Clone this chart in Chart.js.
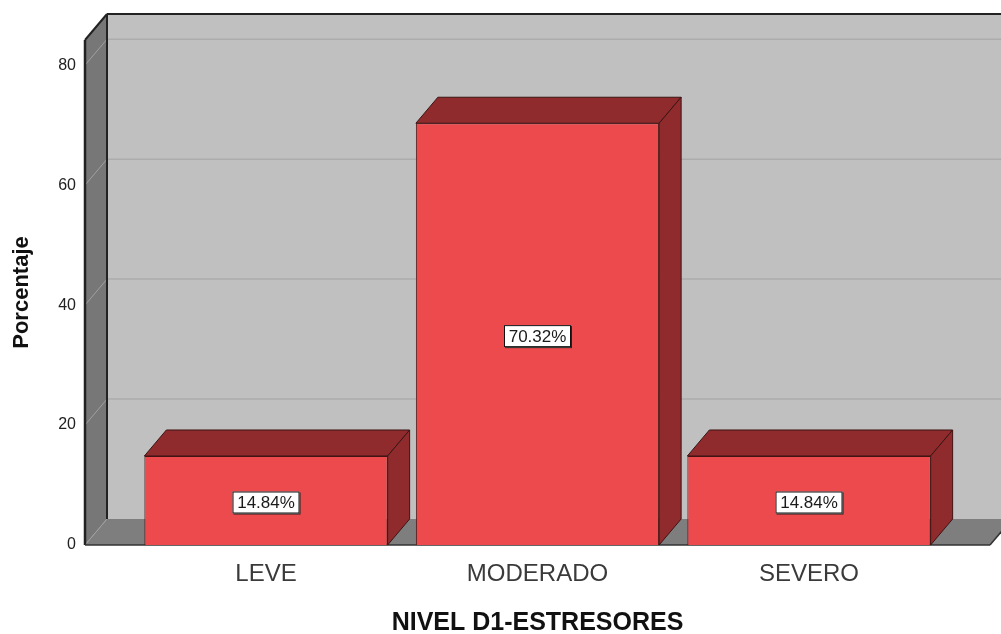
<!DOCTYPE html>
<html>
<head>
<meta charset="utf-8">
<script src="https://cdn.jsdelivr.net/npm/chart.js@4.4.1/dist/chart.umd.min.js"></script>
<style>
  body { margin: 0; background: #fff; }
  #wrap { width: 1001px; height: 634px; }
</style>
</head>
<body>
<div id="wrap"><canvas id="grafico" width="1001" height="634"></canvas></div>
<script>
var niveles = ["LEVE", "MODERADO", "SEVERO"];
var porcentajes = [14.84, 70.32, 14.84];
var yTicks = [0, 20, 40, 60, 80];

// profundidad del efecto 3D (px)
var dx = 22, dy = -26;
var fuente = "'Liberation Sans', Arial, sans-serif";

function poly(ctx, pts, fill, stroke, lw) {
  ctx.beginPath();
  ctx.moveTo(pts[0][0], pts[0][1]);
  for (var i = 1; i < pts.length; i++) ctx.lineTo(pts[i][0], pts[i][1]);
  ctx.closePath();
  if (fill) { ctx.fillStyle = fill; ctx.fill(); }
  if (stroke) { ctx.strokeStyle = stroke; ctx.lineWidth = lw || 1; ctx.stroke(); }
}

function linea(ctx, x1, y1, x2, y2, color, lw) {
  ctx.beginPath();
  ctx.moveTo(x1, y1);
  ctx.lineTo(x2, y2);
  ctx.strokeStyle = color;
  ctx.lineWidth = lw;
  ctx.stroke();
}

var caja3d = {
  id: "caja3d",
  beforeDatasetsDraw: function (chart) {
    var ctx = chart.ctx, a = chart.chartArea, y = chart.scales.y;
    ctx.save();
    // pared del fondo
    ctx.fillStyle = "#c0c0c0";
    ctx.fillRect(a.left + dx, a.top + dy, a.right - a.left, a.bottom - a.top);
    // pared izquierda
    poly(ctx, [[a.left, a.top], [a.left + dx, a.top + dy], [a.left + dx, a.bottom + dy], [a.left, a.bottom]], "#777777");
    // piso
    poly(ctx, [[a.left, a.bottom], [a.left + dx, a.bottom + dy], [a.right + dx, a.bottom + dy], [a.right, a.bottom]], "#7e7e7e");
    // lineas de cuadricula
    yTicks.forEach(function (v) {
      var py = y.getPixelForValue(v);
      if (v > 0) linea(ctx, a.left + dx, py + dy, a.right + dx, py + dy, "#acacac", 1.5);
      linea(ctx, a.left, py, a.left + dx, py + dy, "#a0a0a0", 1);
    });
    // bordes
    linea(ctx, a.left + dx, a.top + dy, a.right + dx, a.top + dy, "#222", 2);
    linea(ctx, a.left + dx, a.top + dy, a.left + dx, a.bottom + dy, "#222", 2);
    linea(ctx, a.left, a.top, a.left + dx, a.top + dy, "#222", 2);
    linea(ctx, a.left, a.top, a.left, a.bottom, "#222", 2.5);
    linea(ctx, a.left, a.bottom, a.right, a.bottom, "#333", 1.5);
    linea(ctx, a.right, a.bottom, a.right + dx, a.bottom + dy, "#333", 1.5);
    ctx.restore();
  },
  afterDatasetsDraw: function (chart) {
    var ctx = chart.ctx;
    var meta = chart.getDatasetMeta(0);
    ctx.save();
    meta.data.forEach(function (bar, i) {
      var p = bar.getProps(["x", "y", "base", "width"], true);
      var l = p.x - p.width / 2, r = p.x + p.width / 2, t = p.y, b = p.base;
      // cara superior y lateral
      poly(ctx, [[l, t], [l + dx, t + dy], [r + dx, t + dy], [r, t]], "#8f2b2d", "#3d1414", 1);
      poly(ctx, [[r, t], [r + dx, t + dy], [r + dx, b + dy], [r, b]], "#8f2b2d", "#3d1414", 1);
      // etiqueta
      var txt = porcentajes[i].toFixed(2) + "%";
      var cy = (t + b) / 2 + 2;
      var w = 67, h = 22;
      ctx.fillStyle = "#222";
      ctx.fillRect(p.x - w / 2 + 1, cy - h / 2 + 1, w, h);
      ctx.fillStyle = "#fff";
      ctx.fillRect(p.x - w / 2, cy - h / 2, w, h);
      ctx.strokeStyle = "#111";
      ctx.lineWidth = 1;
      ctx.strokeRect(p.x - w / 2 + 0.5, cy - h / 2 + 0.5, w - 1, h - 1);
      ctx.fillStyle = "#1a1a1a";
      ctx.font = "17px " + fuente;
      ctx.textAlign = "center";
      ctx.textBaseline = "middle";
      ctx.fillText(txt, p.x, cy + 1);
    });
    ctx.restore();
  }
};

new Chart("grafico", {
  type: "bar",
  data: {
    datasets: [{
      data: porcentajes.map(function (v, i) { return { x: i, y: v }; }),
      backgroundColor: "#ec4a4c",
      borderColor: "#4a1515",
      borderWidth: 1,
      categoryPercentage: 1,
      barPercentage: 0.896
    }]
  },
  options: {
    responsive: false,
    animation: false,
    layout: { padding: { top: 40, right: 11, left: 0, bottom: 0 } },
    plugins: {
      legend: { display: false },
      tooltip: { enabled: false }
    },
    scales: {
      x: {
        type: "linear",
        offset: false,
        min: -2 / 3,
        max: 8 / 3,
        grid: { display: false, offset: false, drawTicks: false },
        border: { display: false },
        afterBuildTicks: function (s) {
          s.ticks = niveles.map(function (n, i) { return { value: i }; });
        },
        afterFit: function (s) { s.height = 89; },
        ticks: {
          autoSkip: false,
          maxRotation: 0,
          padding: 15,
          color: "#3a3a3a",
          font: { family: fuente, size: 24 },
          callback: function (v) { return niveles[v]; }
        },
        title: {
          display: true,
          text: "NIVEL D1-ESTRESORES",
          color: "#111",
          font: { family: fuente, size: 25, weight: "bold", lineHeight: 1 },
          padding: { top: 0, bottom: -2 }
        }
      },
      y: {
        min: 0,
        max: 84.2,
        grid: { display: false, drawTicks: false },
        border: { display: false },
        afterBuildTicks: function (s) {
          s.ticks = yTicks.map(function (v) { return { value: v }; });
        },
        afterFit: function (s) { s.width = 85; },
        ticks: {
          padding: 9,
          color: "#222",
          font: { family: fuente, size: 16 }
        },
        title: {
          display: true,
          text: "Porcentaje",
          color: "#111",
          font: { family: fuente, size: 22, weight: "bold" },
          padding: { top: 9, bottom: 0 }
        }
      }
    }
  },
  plugins: [caja3d]
});
</script>
</body>
</html>
